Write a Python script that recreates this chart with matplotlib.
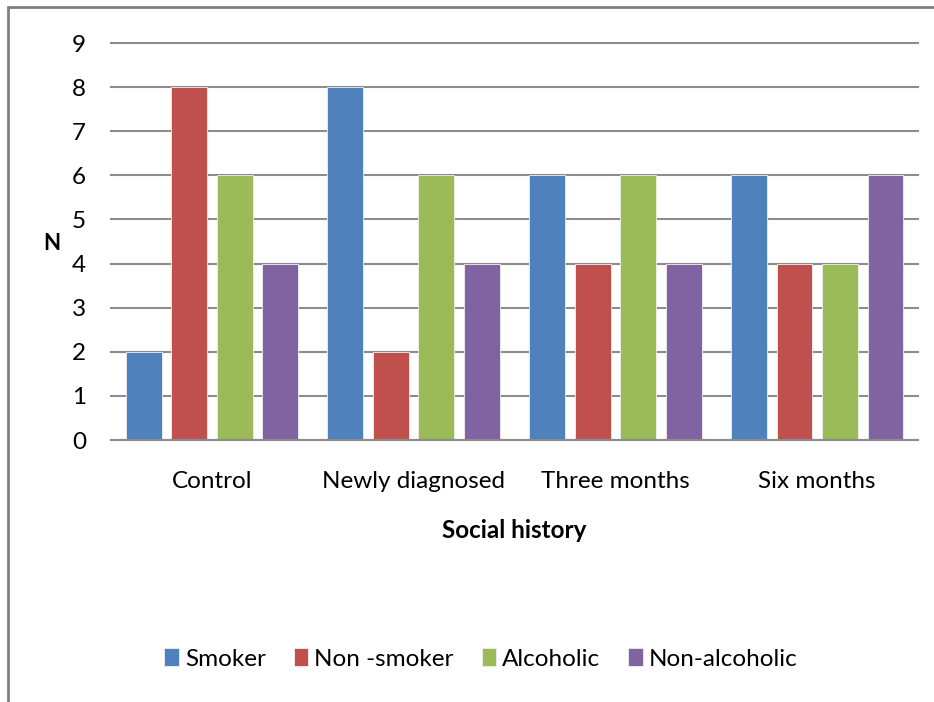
import numpy as np
import matplotlib.pyplot as plt
from matplotlib.patches import Rectangle

categories = ["Control", "Newly diagnosed", "Three months", "Six months"]
series = ["Smoker", "Non -smoker", "Alcoholic", "Non-alcoholic"]
smoker = [2, 8, 6, 6]
non_smoker = [8, 2, 4, 4]
alcoholic = [6, 6, 6, 4]
non_alcoholic = [4, 4, 4, 6]
colors = ["#4F81BD", "#C0504D", "#9BBB59", "#8064A2"]

plt.rcParams['font.family'] = ['Lato', 'DejaVu Sans']

fig = plt.figure(figsize=(9.34, 7.02), dpi=100)
ax = fig.add_axes([0.1188, 0.3732, 0.8642, 0.5655])

x = np.arange(len(categories))
pitch = 0.2255
width = 0.178
for i, (vals, name) in enumerate(zip([smoker, non_smoker, alcoholic, non_alcoholic], series)):
    ax.bar(x + (i - 1.5) * pitch, vals, width, color=colors[i], label=name,
           edgecolor='#f0f0f0', linewidth=0.6, zorder=3)

ax.set_xlim(-0.5, 3.5)
ax.set_ylim(0, 9)
ax.set_yticks(range(10))
ax.yaxis.grid(True, color='#8c8c8c', linewidth=1.5, zorder=0)
for gl in ax.get_ygridlines():
    gl.set_clip_on(False)
ax.axhline(0, color='#8c8c8c', linewidth=1.5, zorder=4)
for s in ax.spines.values():
    s.set_visible(False)
ax.tick_params(length=0, labelsize=17.5)
ax.tick_params(axis='y', pad=18)
ax.tick_params(axis='x', pad=22)
ax.set_xticks(x)
ax.set_xticklabels(categories, fontsize=17.5)

fig.text(52 / 934, 1 - 243 / 702, "N", fontsize=16, fontweight='bold', ha='center', va='center')
fig.text(514 / 934, 1 - 531 / 702, "Social history", fontsize=17.5, fontweight='bold', ha='center', va='center')

fig.legend(loc='center', bbox_to_anchor=(481 / 934, 1 - 659 / 702), ncol=4, frameon=False,
           fontsize=17.5, handlelength=0.6, handleheight=0.7, handletextpad=0.25, columnspacing=1.15)

# outer chart border
fig.patches.append(Rectangle((8 / 934, -0.1), 1.2, 1 - 7 / 702 + 0.1, transform=fig.transFigure,
                             fill=False, edgecolor='#808080', linewidth=2))

fig.savefig("out.png", dpi=100)
